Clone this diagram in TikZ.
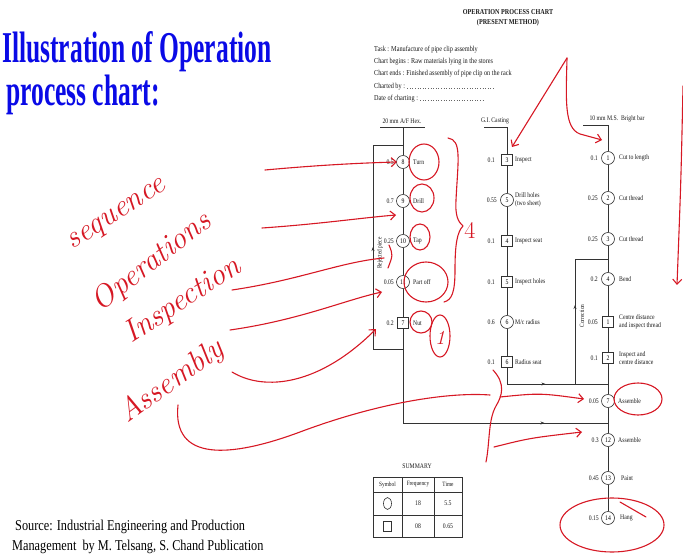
\documentclass[tikz,border=0pt]{standalone}
\usepackage{fontspec}
\usetikzlibrary{arrows.meta,decorations.markings}
\newfontfamily\tms{Liberation Serif}[FakeStretch=0.82]
\newfontfamily\ttl{Liberation Serif}[FakeStretch=0.58]
\definecolor{ink}{RGB}{214,24,36}
\definecolor{ttlblue}{RGB}{10,10,230}
\begin{document}
\begin{tikzpicture}[x=1pt,y=-1pt,
 ln/.style={draw=black!80, line width=0.6pt},
 opc/.style={circle, ln, fill=white, minimum size=13pt, inner sep=0pt, font=\tms\fontsize{7}{7}\selectfont},
 insq/.style={rectangle, ln, fill=white, minimum size=11.5pt, inner sep=0pt, font=\tms\fontsize{7}{7}\selectfont},
 txt/.style={font=\tms\fontsize{7}{8.5}\selectfont, inner sep=0pt, text=black!90},
 tsk/.style={font=\tms\fontsize{7.6}{9}\selectfont, inner sep=0pt, text=black!90, anchor=west},
 tm/.style={txt, anchor=east},
 lb/.style={txt, anchor=west, align=left},
 ink/.style={draw=ink, line width=1.1pt, line cap=round, line join=round},
 inkarr/.style={ink, -{Straight Barb[length=5pt,width=9pt]}},
 hand/.style={text=ink, font=\itshape\fontsize{31}{31}\selectfont, inner sep=0pt},
 upmark/.style={postaction={decorate}, decoration={markings, mark=at position #1 with {\arrow{Stealth[length=4pt]}}}}
]
\useasboundingbox (0,0) rectangle (683,556);

% ---------- title and source ----------
\node[anchor=base west, inner sep=0pt, text=ttlblue, font=\ttl\bfseries\fontsize{44}{44}\selectfont] (tl1) at (2,63) {Illustration of Operation};
\node[anchor=base west, inner sep=0pt, text=ttlblue, font=\ttl\bfseries\fontsize{44}{44}\selectfont] (tl2) at (6,106) {process chart:};
\node[anchor=base west, inner sep=0pt, font=\tms\fontsize{15}{15}\selectfont] (src1) at (15,530) {Source: Industrial Engineering and Production};
\node[anchor=base west, inner sep=0pt, font=\tms\fontsize{15}{15}\selectfont] (src2) at (12,550) {Management\ \ by M. Telsang, S. Chand Publication};

% ---------- chart header ----------
\node[txt, font=\tms\bfseries\fontsize{7.5}{9.5}\selectfont, align=center] (ttl) at (508,18) {OPERATION PROCESS CHART\\(PRESENT METHOD)};
\node[tsk] (task) at (374,50) {Task : Manufacture of pipe clip assembly};
\node[tsk] (cbeg) at (374,62) {Chart begins : Raw materials lying in the stores};
\node[tsk] (cend) at (374,74) {Chart ends : Finished assembly of pipe clip on the rack};
\node[tsk] (chby) at (374,87) {Charted by :};
\node[tsk] (doc) at (374,99) {Date of charting :};
\coordinate (chbye) at (495,88);
\coordinate (doce) at (484,100);
\draw[black!60, dotted, line width=0.6pt] (chby.east) ++(2,1) -- (chbye);
\draw[black!60, dotted, line width=0.6pt] (doc.east) ++(2,1) -- (doce);

% ---------- column headers ----------
\node[txt] (hd1) at (402,121) {20 mm A/F Hex.};
\node[txt] (hd2) at (495,121) {G.I. Casting};
\node[txt] (hd3) at (617,119) {10 mm M.S.\ \ Bright bar};

% ---------- column 1 ----------
\node[opc] (n8) at (403,162) {8};   \node[tm] (t8) at (394,162) {0.5};  \node[lb] (l8) at (413,162) {Turn};
\node[opc] (n9) at (403,201) {9};   \node[tm] (t9) at (394,201) {0.7};  \node[lb] (l9) at (413,201) {Drill};
\node[opc] (n10) at (403,241) {10}; \node[tm] (t10) at (394,241) {0.25}; \node[lb] (l10) at (413,241) {Tap};
\node[opc] (n11) at (403,282) {11}; \node[tm] (t11) at (394,282) {0.05}; \node[lb] (l11) at (413,282) {Part off};
\node[insq] (i7) at (403,323) {7};  \node[tm] (t7) at (394,323) {0.2};  \node[lb] (l7) at (413,323) {Nut};

% ---------- column 2 ----------
\node[insq] (s3) at (507,160) {3}; \node[tm] (ts3) at (495,160) {0.1};  \node[lb] (ls3) at (515,160) {Inspect};
\node[opc] (c5) at (507,200) {5};  \node[tm] (tc5) at (497,200) {0.55}; \node[lb] (lc5) at (515,200) {Drill holes\\(two sheet)};
\node[insq] (s4) at (507,241) {4}; \node[tm] (ts4) at (495,241) {0.1};  \node[lb] (ls4) at (515,241) {Inspect seat};
\node[insq] (s5) at (507,282) {5}; \node[tm] (ts5) at (495,282) {0.1};  \node[lb] (ls5) at (515,282) {Inspect holes};
\node[opc] (c6) at (507,322) {6};  \node[tm] (tc6) at (495,322) {0.6};  \node[lb] (lc6) at (515,322) {M/c radius};
\node[insq] (s6) at (507,362) {6}; \node[tm] (ts6) at (495,362) {0.1};  \node[lb] (ls6) at (515,362) {Radius seat};

% ---------- column 3 ----------
\node[opc] (c1) at (608,158) {1};   \node[tm] (tc1) at (598,158) {0.1};   \node[lb] (lc1) at (619,158) {Cut to length};
\node[opc] (c2) at (608,198) {2};   \node[tm] (tc2) at (598,198) {0.25};  \node[lb] (lc2) at (619,198) {Cut thread};
\node[opc] (c3) at (608,239) {3};   \node[tm] (tc3) at (598,239) {0.25};  \node[lb] (lc3) at (619,239) {Cut thread};
\node[opc] (c4) at (608,279) {4};   \node[tm] (tc4) at (598,279) {0.2};   \node[lb] (lc4) at (619,279) {Bend};
\node[insq] (q1) at (608,322) {1};  \node[tm] (tq1) at (598,322) {0.05};  \node[lb] (lq1) at (619,322) {Centre distance\\and inspect thread};
\node[insq] (q2) at (608,358) {2};  \node[tm] (tq2) at (598,358) {0.1};   \node[lb] (lq2) at (619,358) {Inspect and\\centre distance};
\node[opc] (c7) at (608,401) {7};   \node[tm] (tc7) at (599,401) {0.05};  \node[lb] (lc7) at (618,401) {Assemble};
\node[opc] (c12) at (608,440) {12}; \node[tm] (tc12) at (599,440) {0.3};  \node[lb] (lc12) at (618,440) {Assemble};
\node[opc] (c13) at (608,478) {13}; \node[tm] (tc13) at (599,478) {0.45}; \node[lb] (lc13) at (621,478) {Paint};
\node[opc] (c14) at (608,518) {14}; \node[tm] (tc14) at (599,518) {0.15}; \node[lb] (lc14) at (620,518) {Hang};

% ---------- connectors ----------
\coordinate (h1l) at (380,127); \coordinate (h1r) at (425,127); \coordinate (h1m) at (403,127);
\coordinate (j1) at (403,423); \coordinate (j1e) at (608,423);
\coordinate (r1) at (403,145); \coordinate (r2) at (373,145); \coordinate (r3) at (373,349); \coordinate (r4) at (403,349);
\draw[ln] (h1l) -- (h1r);
\draw[ln] (h1m) -- (n8) -- (n9) -- (n10) -- (n11) -- (i7) -- (j1);
\draw[ln, upmark=0.69] (j1) -- (j1e);
\draw[ln, upmark=0.5] (r4) -- (r3) -- (r2) -- (r1);
\node[txt, rotate=90, font=\tms\fontsize{6.5}{7}\selectfont] (rej) at (380,253) {Rejected piece};

\coordinate (h2l) at (484,127); \coordinate (h2r) at (507,127);
\coordinate (j2) at (507,384); \coordinate (j2e) at (608,384);
\draw[ln] (h2l) -- (h2r) -- (s3) -- (c5) -- (s4) -- (s5) -- (c6) -- (s6) -- (j2);
\draw[ln, upmark=0.38] (j2) -- (j2e);

\coordinate (h3l) at (583,125); \coordinate (h3r) at (608,125);
\coordinate (k1) at (608,259); \coordinate (k2) at (575,259); \coordinate (k3) at (575,384);
\draw[ln] (h3l) -- (h3r) -- (c1) -- (c2) -- (c3) -- (c4) -- (q1) -- (q2) -- (c7) -- (c12) -- (c13) -- (c14);
\draw[ln, upmark=0.5] (k3) -- (k2) -- (k1);
\node[txt, rotate=90, font=\tms\fontsize{6.5}{7}\selectfont] (corr) at (582,316) {Correction};

% ---------- summary ----------
\node[txt, font=\tms\fontsize{7}{8}\selectfont] (summ) at (417,466) {SUMMARY};
\draw[ln, line width=0.9pt] (373,477) rectangle (462,537);
\draw[ln] (373,492) -- (462,492);
\draw[ln] (373,515) -- (462,515);
\draw[ln] (402,477) -- (402,537);
\draw[ln] (434,477) -- (434,537);
\node[txt, font=\tms\fontsize{6.5}{7}\selectfont] (sh1) at (387.5,484.5) {Symbol};
\node[txt, font=\tms\fontsize{6.5}{7}\selectfont] (sh2) at (418,484.5) {Frequency};
\node[txt, font=\tms\fontsize{6.5}{7}\selectfont] (sh3) at (448,484.5) {Time};
\draw[ln] (387.5,503.5) ellipse [x radius=4, y radius=6];
\node[txt] (f1) at (418,503.5) {18};
\node[txt] (tt1) at (448,503.5) {5.5};
\draw[ln] (383.5,521) rectangle (391.5,531);
\node[txt] (f2) at (418,526) {08};
\node[txt] (tt2) at (448,526) {0.65};

% ---------- red handwriting ----------
\node[hand, rotate=33] (hw1) at (118,216) {sequence};
\node[hand, rotate=38] (hw2) at (152,262) {Operations};
\node[hand, rotate=33] (hw3) at (183,301) {Inspection};
\node[hand, rotate=36] (hw4) at (172,382) {Assembly};

\draw[inkarr] (265,170) .. controls (320,165) and (360,163) .. (397,162);
\draw[inkarr] (262,228) .. controls (320,224) and (360,218) .. (396,215);
\draw[ink] (232,290) .. controls (300,280) and (340,262) .. (384,258);
\draw[ink] (389,245) .. controls (393,255) .. (388,268);
\draw[inkarr] (230,330) .. controls (300,320) and (345,300) .. (382,292);
\draw[inkarr] (232,372) .. controls (265,392) and (320,385) .. (376,329);
\draw[ink] (178,405) .. controls (172,462) and (230,458) .. (300,432) .. controls (380,402) and (450,392) .. (490,395);
\draw[inkarr] (500,397) .. controls (540,393) .. (584,399);
\draw[inkarr] (494,447) .. controls (530,438) .. (582,432);
\draw[ink] (493,370) .. controls (506,384) and (502,396) .. (496,406) .. controls (488,420) and (490,442) .. (486,462);
\draw[inkarr] (567,58) -- (512,147);
\draw[inkarr] (567,58) .. controls (566,100) and (564,128) .. (580,134) -- (602,140);
\draw[inkarr] (683,86) .. controls (681,180) .. (677,285);

% red rings
\draw[ink] (424,162) ellipse [x radius=15, y radius=18];
\draw[ink] (422,198) ellipse [x radius=12, y radius=14];
\draw[ink] (420,237) ellipse [x radius=10, y radius=13];
\draw[ink] (426,282) ellipse [x radius=22, y radius=20];
\draw[ink] (421,322) ellipse [x radius=11, y radius=11];
\draw[ink] (440,336) ellipse [x radius=10, y radius=21];
\node[text=ink, font=\itshape\fontsize{20}{20}\selectfont, inner sep=0pt] (one) at (440,338) {1};
\draw[ink] (448,138) .. controls (462,140) and (458,160) .. (456,200) .. controls (455,215) and (458,222) .. (463,226) .. controls (457,232) and (455,245) .. (455,270) .. controls (455,292) and (452,300) .. (444,302);
\node[text=ink, font=\fontsize{24}{24}\selectfont, inner sep=0pt] (four) at (470,230) {4};
\draw[ink] (638,399) ellipse [x radius=24, y radius=16];
\draw[ink] (612,525) ellipse [x radius=52, y radius=27];
\draw[ink] (620,502) -- (646,517);
\end{tikzpicture}
\end{document}
